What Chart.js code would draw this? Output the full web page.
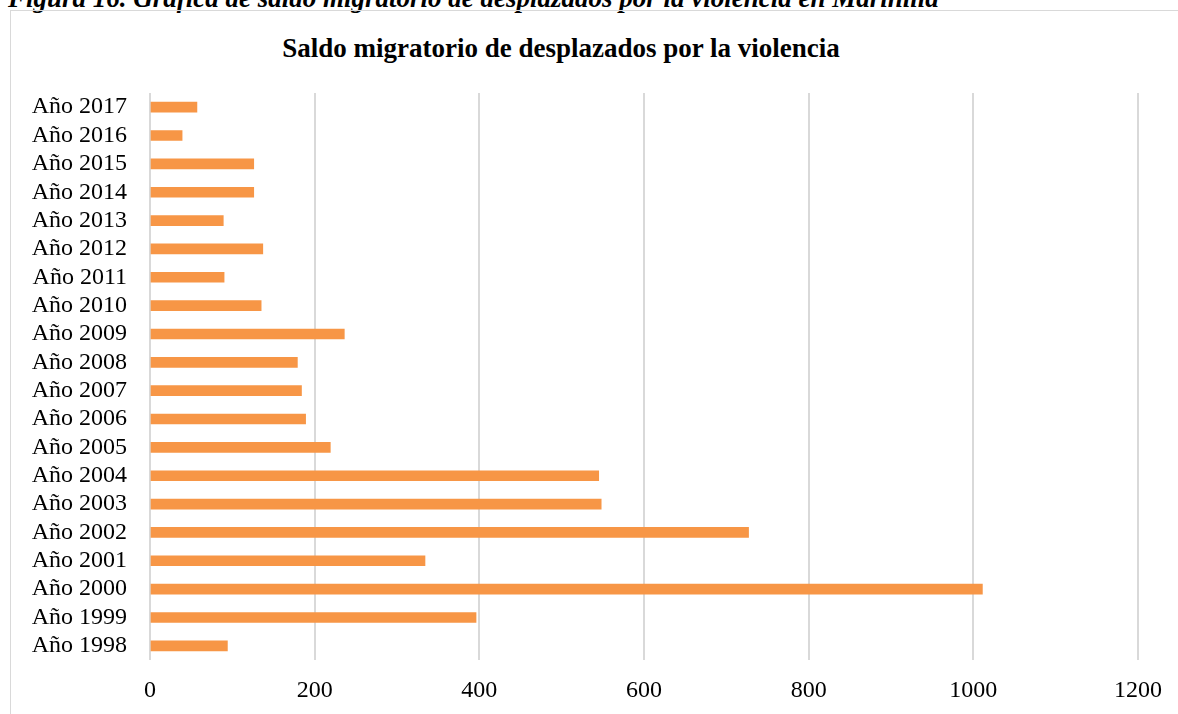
<!DOCTYPE html>
<html>
<head>
<meta charset="utf-8">
<script src="https://cdn.jsdelivr.net/npm/chart.js@4/dist/chart.umd.min.js"></script>
<style>
  body { margin: 0; background: #fff; overflow: hidden; width: 1178px; height: 714px; position: relative; }
  #caption {
    position: absolute; left: 8px; top: -15px; white-space: nowrap;
    font: italic bold 27px "Liberation Serif", serif; line-height: 27px; color: #000;
  }
  #box {
    position: absolute; left: 10px; top: 10px; width: 1200px; height: 720px;
    border: 1.5px solid #d9d9d9; box-sizing: border-box;
  }
  #title {
    position: absolute; left: 0; top: 22px; width: 1100px; text-align: center;
    font: bold 27px "Liberation Serif", serif; color: #000;
  }
  #chart { position: absolute; left: 0; top: 0; }
</style>
</head>
<body>
<div id="caption">Figura 16. Gráfica de saldo migratorio de desplazados por la violencia en Marinilla</div>
<div id="box">
  <div id="title">Saldo migratorio de desplazados por la violencia</div>
  <canvas id="chart" width="1190" height="710"></canvas>
</div>
<script>
const years = ['Año 1998', 'Año 1999', 'Año 2000', 'Año 2001', 'Año 2002', 'Año 2003', 'Año 2004',
  'Año 2005', 'Año 2006', 'Año 2007', 'Año 2008', 'Año 2009', 'Año 2010', 'Año 2011',
  'Año 2012', 'Año 2013', 'Año 2014', 'Año 2015', 'Año 2016', 'Año 2017'];
const saldo = [94, 396, 1011, 334, 727, 548, 545, 219, 189, 184, 179, 236, 135, 90, 137, 89, 126, 126, 39, 57];
const xMin = 0;
const xMax = 1200;
const xStep = 200;

const labelFont = { family: '"Liberation Serif", serif', size: 24 };

const saldoChart = new Chart(document.getElementById('chart'), {
  type: 'bar',
  data: {
    labels: years,
    datasets: [{
      label: 'Saldo migratorio',
      data: saldo,
      backgroundColor: '#f79646',
      barThickness: 10
    }]
  },
  options: {
    indexAxis: 'y',
    responsive: false,
    animation: false,
    layout: { padding: { top: 82, right: 63, bottom: 0, left: 0 } },
    plugins: { legend: { display: false }, tooltip: { enabled: false } },
    scales: {
      x: {
        min: xMin, max: xMax,
        ticks: { stepSize: xStep, color: '#000', font: labelFont, padding: 16, callback: (v) => String(v) },
        grid: { color: '#d9d9d9', lineWidth: 2, drawTicks: false },
        border: { display: false },
        afterFit: (s) => { s.height = 61; }
      },
      y: {
        reverse: true,
        ticks: { color: '#000', font: labelFont, padding: 23, autoSkip: false },
        grid: { display: false, drawTicks: false },
        border: { display: false },
        afterFit: (s) => { s.width = 139; }
      }
    }
  }
});
</script>
</body>
</html>
